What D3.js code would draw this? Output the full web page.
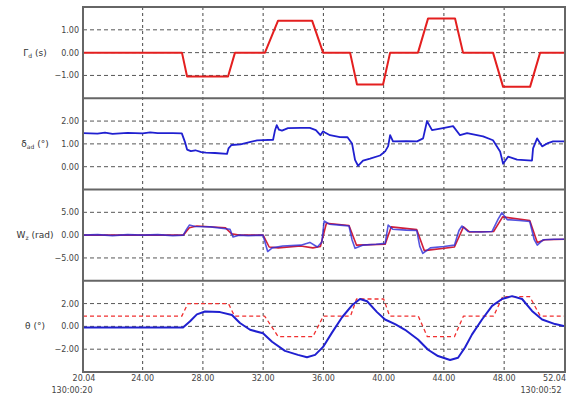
<!DOCTYPE html>
<html>
<head>
<meta charset="utf-8">
<script src="https://cdn.jsdelivr.net/npm/d3@7"></script>
<style>
  body { margin: 0; background: #fff; }
  text { font-family: "DejaVu Sans", sans-serif; }
</style>
</head>
<body>
<div class="chartContainer"></div>
<script>
// time axis (s, within 130:00:xx)
const xTicks = [24, 28, 32, 36, 40, 44, 48];
const xTickLabels = ["24.00", "28.00", "32.00", "36.00", "40.00", "44.00", "48.00"];
const xStartLabel = "20.04";
const xEndLabel = "52.04";
const startStamp = "130:00:20";
const endStamp = "130:00:52";

// panel 1: disturbance step
const gammaT = [20.04, 26.61, 26.95, 29.67, 30.13, 32.12, 32.99, 35.25, 35.98, 37.77, 38.23, 39.96, 40.43, 42.28, 42.95, 44.74, 45.27, 47.26, 47.93, 49.72, 50.39, 52.04];
const gammaV = [0, 0, -1.05, -1.05, 0, 0, 1.4, 1.4, 0, 0, -1.4, -1.4, 0, 0, 1.5, 1.5, 0, 0, -1.5, -1.5, 0, 0];

// panel 2: deflection
const deltaT = [20.04, 21.0, 21.5, 22.0, 23.0, 24.0, 24.5, 25.0, 26.0, 26.6, 26.8, 26.95, 27.2, 27.5, 27.9, 28.2, 28.8, 29.6, 29.7, 29.9, 30.5, 31.1, 31.6, 32.0, 32.66, 32.79, 32.9, 33.05, 33.25, 33.65, 34.5, 35.1, 35.5, 35.8, 35.98, 36.1, 36.44, 37.1, 37.6, 37.9, 38.1, 38.3, 38.63, 39.1, 39.76, 40.1, 40.3, 40.43, 40.62, 41.5, 42.22, 42.62, 42.88, 43.21, 43.94, 44.61, 45.07, 45.54, 46.6, 47.26, 47.73, 47.93, 48.26, 48.86, 49.85, 49.92, 50.19, 50.52, 50.86, 51.25, 52.04];
const deltaV = [1.47, 1.45, 1.49, 1.44, 1.48, 1.46, 1.5, 1.47, 1.47, 1.46, 1.1, 0.75, 0.68, 0.72, 0.64, 0.62, 0.6, 0.56, 0.8, 0.95, 0.98, 1.08, 1.15, 1.16, 1.18, 1.6, 1.82, 1.62, 1.58, 1.69, 1.7, 1.7, 1.6, 1.38, 1.55, 1.5, 1.38, 1.3, 1.29, 1.02, 0.3, 0.04, 0.27, 0.35, 0.49, 0.67, 0.9, 1.38, 1.11, 1.12, 1.11, 1.24, 2.0, 1.6, 1.69, 1.78, 1.38, 1.47, 1.33, 1.16, 0.67, 0.13, 0.44, 0.31, 0.27, 0.8, 1.24, 0.89, 1.02, 1.11, 1.11];

// panel 3: rate, measured and reference
const rateT = [20.04, 21, 22, 23, 24, 25, 26, 26.7, 26.9, 27.1, 27.5, 28.5, 29.5, 29.8, 30.0, 30.4, 31, 31.99, 32.12, 32.3, 32.6, 33.3, 34.5, 35.1, 35.6, 35.9, 36.05, 36.4, 37.1, 37.7, 37.9, 38.1, 38.6, 39.5, 40.1, 40.3, 40.6, 41.5, 42.2, 42.4, 42.6, 43.1, 44.0, 44.7, 45.0, 45.2, 45.6, 46.5, 47.2, 47.6, 47.85, 48.2, 49.0, 49.7, 50.0, 50.2, 50.6, 51.3, 52.04];
const rateV = [0, 0.1, -0.1, 0.1, 0, 0.1, -0.1, 0, 1.2, 2.2, 1.9, 1.8, 1.4, 1.3, -0.4, 0, -0.1, 0, -1.5, -3.6, -2.8, -2.4, -2.2, -1.6, -2.6, -1.5, 3.1, 2.4, 2.2, 2.0, -1.0, -2.9, -2.2, -2.0, -1.8, 2.2, 1.3, 1.1, 1.0, -2.5, -4.0, -2.8, -2.5, -2.2, 1.0, 2.0, 0.8, 0.7, 0.8, 3.5, 4.9, 3.4, 3.2, 3.0, -1.0, -2.2, -1.0, -0.9, -0.9];
const rateRefT = [20.04, 26.7, 27.1, 27.6, 29.5, 29.9, 30.4, 32.0, 32.4, 33.0, 34.5, 35.3, 35.8, 36.2, 37.7, 38.2, 40.1, 40.5, 42.2, 42.7, 44.7, 45.3, 45.7, 47.3, 47.9, 49.7, 50.2, 50.7, 52.04];
const rateRefV = [0, 0, 1.6, 2.0, 1.6, 0.3, 0, 0, -2.6, -2.8, -2.4, -2.8, -2.5, 2.6, 2.1, -2.2, -2.0, 1.8, 1.2, -3.4, -2.6, 1.8, 0.7, 0.8, 4.0, 3.2, -1.6, -1.0, -0.9];

// panel 4: angle, measured and commanded
const thetaT = [20.04, 24.49, 26.68, 27.15, 27.6, 28.14, 29.14, 29.93, 30.46, 31.13, 31.99, 32.59, 33.45, 34.31, 34.91, 35.45, 35.98, 36.57, 37.24, 37.9, 38.43, 38.9, 39.56, 40.09, 40.76, 41.42, 42.28, 42.95, 43.61, 44.41, 44.94, 45.4, 45.87, 46.53, 47.2, 47.86, 48.53, 49.19, 49.85, 50.52, 51.38, 52.04];
const thetaV = [-0.1, -0.1, -0.1, 0.45, 1.05, 1.3, 1.25, 1.0, 0.3, -0.3, -0.6, -1.35, -2.15, -2.5, -2.7, -2.5, -1.8, -0.55, 0.8, 1.85, 2.4, 2.2, 1.25, 0.6, 0.2, -0.3, -1.15, -2.05, -2.6, -2.95, -2.75, -1.85, -0.7, 0.6, 1.8, 2.4, 2.65, 2.4, 1.35, 0.6, 0.2, 0];
const thetaCmdT = [20.04, 26.6, 27.0, 29.7, 30.1, 32.1, 33.0, 35.3, 36.0, 37.8, 38.2, 40.0, 40.4, 42.3, 42.9, 44.7, 45.3, 47.3, 47.9, 49.7, 50.4, 52.04];
const thetaCmdV = [0.9, 0.9, 2.0, 2.0, 0.9, 0.9, -0.9, -0.9, 0.9, 0.9, 2.4, 2.4, 0.9, 0.9, -0.9, -0.9, 0.9, 0.9, 2.6, 2.6, 0.9, 0.9];

// panel axis definitions
const panelDomains = [[-2, 2], [-1, 3], [-10, 10], [-4, 4]];
const panelTicks = [[-1, 0, 1], [0, 1, 2], [-5, 0, 5], [-2, 0, 2]];

document.addEventListener("DOMContentLoaded", function () {
  const W = 567;
  const H = 403;
  const LEFT = 83;
  const RIGHT = 565;
  const TOP = 7;
  const BOTTOM = 372;
  const PANEL_H = (BOTTOM - TOP) / 4;

  const svg = d3
    .select(".chartContainer")
    .append("svg")
    .attr("width", W)
    .attr("height", H);

  const x = d3.scaleLinear().domain([20.04, 52.04]).range([LEFT, RIGHT]);

  const zip = (ts, vs) => ts.map((t, i) => ({ t: t, v: vs[i] }));

  const panels = [
    {
      label: ["Γ", "d", " (s)"],
      series: [{ data: zip(gammaT, gammaV), color: "#e41f1f", width: 2, dash: null }]
    },
    {
      label: ["δ", "ad", " (°)"],
      series: [{ data: zip(deltaT, deltaV), color: "#2020d0", width: 1.8, dash: null }]
    },
    {
      label: ["W", "z", " (rad)"],
      series: [
        { data: zip(rateRefT, rateRefV), color: "#d0203a", width: 1.6, dash: null },
        { data: zip(rateT, rateV), color: "#2a2ad8", width: 1.6, dash: null, opacity: 0.8 }
      ]
    },
    {
      label: ["θ", "", " (°)"],
      series: [
        { data: zip(thetaCmdT, thetaCmdV), color: "#f03030", width: 1.3, dash: "4,3" },
        { data: zip(thetaT, thetaV), color: "#2020d0", width: 2, dash: null }
      ]
    }
  ];

  // Clip for the plotting area
  svg
    .append("clipPath")
    .attr("id", "plotClip")
    .append("rect")
    .attr("x", LEFT)
    .attr("y", TOP)
    .attr("width", RIGHT - LEFT)
    .attr("height", BOTTOM - TOP);

  // Vertical grid lines
  svg
    .append("g")
    .selectAll("line")
    .data(xTicks)
    .enter()
    .append("line")
    .attr("x1", (d) => x(d))
    .attr("x2", (d) => x(d))
    .attr("y1", TOP)
    .attr("y2", BOTTOM)
    .attr("stroke", "#333")
    .attr("stroke-width", 0.9)
    .attr("stroke-dasharray", "3,3");

  panels.forEach((p, i) => {
    const y0 = TOP + i * PANEL_H;
    const y = d3.scaleLinear().domain(panelDomains[i]).range([y0 + PANEL_H, y0]);
    const g = svg.append("g");

    // horizontal grid
    g.selectAll("line.grid")
      .data(panelTicks[i])
      .enter()
      .append("line")
      .attr("class", "grid")
      .attr("x1", LEFT)
      .attr("x2", RIGHT)
      .attr("y1", (d) => y(d))
      .attr("y2", (d) => y(d))
      .attr("stroke", "#444")
      .attr("stroke-width", 0.9)
      .attr("stroke-dasharray", "4,3");

    // tick labels
    g.selectAll("text.tick")
      .data(panelTicks[i])
      .enter()
      .append("text")
      .attr("class", "tick")
      .attr("x", LEFT - 4)
      .attr("y", (d) => y(d) + 3)
      .attr("text-anchor", "end")
      .attr("font-size", "8px")
      .attr("fill", "#444")
      .text((d) => d3.format(".2f")(d));

    // y label
    const lab = g
      .append("text")
      .attr("x", 35)
      .attr("y", y0 + PANEL_H / 2 + 3)
      .attr("text-anchor", "middle")
      .attr("font-size", "9px")
      .attr("fill", "#333");
    lab.append("tspan").text(p.label[0]);
    if (p.label[1]) {
      lab.append("tspan").attr("font-size", "6px").attr("dy", 2).text(p.label[1]);
      lab.append("tspan").attr("dy", -2).text(p.label[2]);
    } else {
      lab.append("tspan").text(p.label[2]);
    }

    // lines
    const line = d3
      .line()
      .x((d) => x(d.t))
      .y((d) => y(d.v));

    p.series.forEach((s) => {
      g.append("path")
        .datum(s.data)
        .attr("clip-path", "url(#plotClip)")
        .attr("fill", "none")
        .attr("stroke", s.color)
        .attr("stroke-width", s.width)
        .attr("stroke-opacity", s.opacity || 1)
        .attr("stroke-linejoin", "round")
        .attr("stroke-dasharray", s.dash)
        .attr("d", line);
    });
  });

  // Frame and panel separators
  svg
    .append("rect")
    .attr("x", LEFT)
    .attr("y", TOP)
    .attr("width", RIGHT - LEFT)
    .attr("height", BOTTOM - TOP)
    .attr("fill", "none")
    .attr("stroke", "#666")
    .attr("stroke-width", 2);

  svg
    .append("g")
    .selectAll("line")
    .data([1, 2, 3])
    .enter()
    .append("line")
    .attr("x1", LEFT)
    .attr("x2", RIGHT)
    .attr("y1", (d) => TOP + d * PANEL_H)
    .attr("y2", (d) => TOP + d * PANEL_H)
    .attr("stroke", "#666")
    .attr("stroke-width", 2);

  // X axis labels
  const xl = svg.append("g").attr("font-size", "8px").attr("fill", "#444");
  xl.selectAll("text")
    .data(xTicks)
    .enter()
    .append("text")
    .attr("x", (d) => x(d))
    .attr("y", BOTTOM + 9)
    .attr("text-anchor", "middle")
    .text((d, i) => xTickLabels[i]);
  xl.append("text").attr("x", LEFT + 1).attr("y", BOTTOM + 9).attr("text-anchor", "middle").text(xStartLabel);
  xl.append("text").attr("x", W - 1).attr("y", BOTTOM + 9).attr("text-anchor", "end").text(xEndLabel);
  xl.append("text").attr("x", 72).attr("y", BOTTOM + 21).attr("text-anchor", "middle").text(startStamp);
  xl.append("text").attr("x", 541).attr("y", BOTTOM + 21).attr("text-anchor", "middle").text(endStamp);
});
</script>
</body>
</html>
